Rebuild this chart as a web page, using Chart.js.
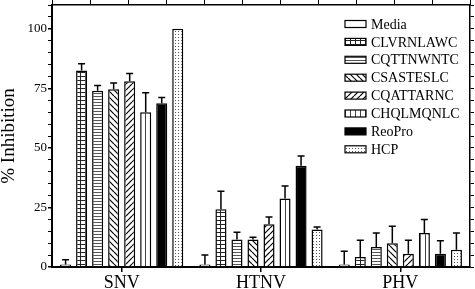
<!DOCTYPE html>
<html>
<head>
<meta charset="utf-8">
<script src="https://cdn.jsdelivr.net/npm/chart.js@4/dist/chart.umd.min.js"></script>
<style>
  html, body { margin: 0; padding: 0; background: #fff; }
  #wrap { width: 475px; height: 289px; }
</style>
</head>
<body>
<div id="wrap"><canvas id="inhibitionChart" width="475" height="289"></canvas></div>
<script>
// Values (% inhibition, mean and upper error)
const virusLabels = ['SNV', 'HTNV', 'PHV'];
const seriesNames = ['Media', 'CLVRNLAWC', 'CQTTNWNTC', 'CSASTESLC', 'CQATTARNC', 'CHQLMQNLC', 'ReoPro', 'HCP'];

const mediaValues = [1, 1, 1];
const clvrnlawcValues = [82.5, 24.2, 4.2];
const cqttnwntcValues = [74, 11.5, 8.4];
const csasteslcValues = [74.6, 11.5, 10];
const cqattarncValues = [78, 18, 5.6];
const chqlmqnlcValues = [65, 28.8, 14.3];
const reoproValues = [68.7, 42.5, 5.6];
const hcpValues = [100, 15.7, 7.2];

const mediaErrors = [2, 4, 5.6];
const clvrnlawcErrors = [2.8, 7.6, 7];
const cqttnwntcErrors = [2.2, 3.1, 5.9];
const csasteslcErrors = [2.7, 1, 7.1];
const cqattarncErrors = [3.2, 3, 5.6];
const chqlmqnlcErrors = [8.2, 5.2, 5.6];
const reoproErrors = [2.5, 4.1, 5.4];
const hcpErrors = [0, 1.1, 7.1];

const yTickLabels = [0, 25, 50, 75, 100];

const allValues = [mediaValues, clvrnlawcValues, cqttnwntcValues, csasteslcValues, cqattarncValues, chqlmqnlcValues, reoproValues, hcpValues];
const allErrors = [mediaErrors, clvrnlawcErrors, cqttnwntcErrors, csasteslcErrors, cqattarncErrors, chqlmqnlcErrors, reoproErrors, hcpErrors];

const serifFont = "'Liberation Serif', 'Times New Roman', serif";
const canvas = document.getElementById('inhibitionChart');
const ctx = canvas.getContext('2d');

// Small tiles for the hatch fills
function makePattern(w, h, draw) {
    const tile = document.createElement('canvas');
    tile.width = w;
    tile.height = h;
    const g = tile.getContext('2d');
    g.fillStyle = '#fff';
    g.fillRect(0, 0, w, h);
    draw(g, w, h);
    return ctx.createPattern(tile, 'repeat');
}

function diagonal(g, s, forward) {
    g.strokeStyle = '#000';
    g.lineWidth = 1.2;
    g.beginPath();
    for (let k = -s; k <= s; k += s) {
        if (forward) {
            g.moveTo(k, s);
            g.lineTo(k + s, 0);
        } else {
            g.moveTo(k, 0);
            g.lineTo(k + s, s);
        }
    }
    g.stroke();
}

const fills = [
    '#fff',
    makePattern(5, 4, (g, w, h) => { g.fillStyle = '#222'; g.fillRect(0, 0, 1, h); g.fillRect(0, 0, w, 1); }),
    makePattern(4, 3, (g, w) => { g.fillStyle = '#555'; g.fillRect(0, 0, w, 1); }),
    makePattern(6, 6, (g, w) => diagonal(g, w, false)),
    makePattern(6, 6, (g, w) => diagonal(g, w, true)),
    makePattern(5, 2, (g, w, h) => { g.fillStyle = '#444'; g.fillRect(0, 0, 1, h); }),
    '#000',
    makePattern(3, 3, (g) => { g.fillStyle = '#555'; g.fillRect(1, 1, 1, 1); })
];

const datasets = seriesNames.map((name, i) => ({
    label: name,
    data: allValues[i],
    backgroundColor: fills[i],
    borderColor: '#000',
    borderWidth: 1.5,
    borderSkipped: 'bottom',
    categoryPercentage: 0.92,
    barPercentage: 0.69
}));

// Upper error whiskers
const errorBarPlugin = {
    id: 'errorBars',
    afterDatasetsDraw(chart) {
        const yScale = chart.scales.y;
        const c = chart.ctx;
        c.save();
        c.strokeStyle = '#000';
        c.lineWidth = 1.5;
        chart.data.datasets.forEach((ds, i) => {
            const meta = chart.getDatasetMeta(i);
            meta.data.forEach((bar, j) => {
                const err = allErrors[i][j];
                if (!err) return;
                const top = yScale.getPixelForValue(ds.data[j] + err);
                c.beginPath();
                c.moveTo(bar.x, bar.y);
                c.lineTo(bar.x, top);
                c.moveTo(bar.x - 3.5, top);
                c.lineTo(bar.x + 3.5, top);
                c.stroke();
            });
        });
        c.restore();
    }
};

// Legend drawn inside the plot, top right
const insideLegendPlugin = {
    id: 'insideLegend',
    afterDraw(chart) {
        const area = chart.chartArea;
        const c = chart.ctx;
        const x = area.right - 125;
        c.save();
        c.font = '14px ' + serifFont;
        c.textBaseline = 'middle';
        c.textAlign = 'left';
        chart.data.datasets.forEach((ds, i) => {
            const y = area.top + 19 + i * 17.9;
            c.fillStyle = ds.backgroundColor;
            c.fillRect(x, y - 3.5, 21, 7);
            c.strokeStyle = '#000';
            c.lineWidth = 1.2;
            c.strokeRect(x, y - 3.5, 21, 7);
            c.fillStyle = '#000';
            c.fillText(ds.label, x + 26, y + 1);
        });
        c.restore();
    }
};

new Chart(ctx, {
    type: 'bar',
    data: { labels: virusLabels, datasets: datasets },
    plugins: [errorBarPlugin, insideLegendPlugin],
    options: {
        responsive: false,
        animation: false,
        devicePixelRatio: 1,
        layout: { padding: { left: 0, right: 1, top: 0, bottom: 0 } },
        plugins: {
            legend: { display: false },
            tooltip: { enabled: false }
        },
        scales: {
            x: {
                position: 'bottom',
                grid: { display: true, drawOnChartArea: false, offset: false, tickLength: 5, color: '#000', lineWidth: 1.5 },
                border: { display: true, color: '#000', width: 2 },
                ticks: { color: '#000', padding: 0, font: { family: serifFont, size: 18 } },
                afterFit(scale) { scale.height = 22; scale.paddingLeft = 0; scale.paddingRight = 0; }
            },
            xTop: {
                type: 'linear',
                position: 'top',
                min: 0,
                max: 10,
                grid: { drawOnChartArea: false, tickLength: 5, color: '#000', lineWidth: 1 },
                border: { display: true, color: '#000', width: 1.5 },
                ticks: { display: false, stepSize: 1 }
            },
            y: {
                position: 'left',
                min: 0,
                max: 110,
                grid: {
                    drawOnChartArea: false,
                    tickLength: 4,
                    color: '#000',
                    lineWidth: (c) => (yTickLabels.includes(c.tick.value) ? 1.5 : 1)
                },
                border: { display: true, color: '#000', width: 2 },
                ticks: {
                    stepSize: 5,
                    autoSkip: false,
                    padding: 1,
                    color: '#000',
                    font: { family: serifFont, size: 13 },
                    callback: (v) => (yTickLabels.includes(v) ? String(v) : '')
                },
                title: {
                    display: true,
                    text: '% Inhibition',
                    color: '#000',
                    padding: 0,
                    font: { family: serifFont, size: 19, lineHeight: 1 }
                },
                afterFit(scale) { scale.width = 52; scale.paddingTop = 0; scale.paddingBottom = 0; }
            },
            yRight: {
                position: 'right',
                min: 0,
                max: 110,
                grid: { drawOnChartArea: false, tickLength: 4, color: '#000', lineWidth: 1 },
                border: { display: true, color: '#000', width: 1.5 },
                ticks: { display: false, stepSize: 5, autoSkip: false }
            }
        }
    }
});
</script>
</body>
</html>
